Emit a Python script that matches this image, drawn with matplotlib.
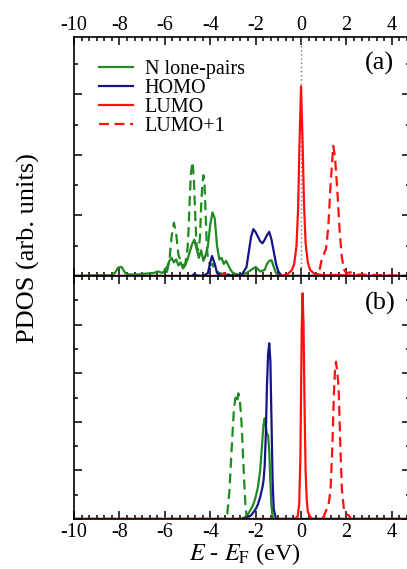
import matplotlib
matplotlib.use("Agg")
import matplotlib.pyplot as plt
from matplotlib.ticker import MultipleLocator

plt.rcParams['font.family'] = ['Liberation Serif', 'DejaVu Serif']
plt.rcParams['mathtext.fontset'] = 'stix'
plt.rcParams['axes.unicode_minus'] = False

GREEN = '#1f8a1f'
BLUE = '#14148a'
RED = '#ff1010'

# ---- panel (a) ----
a_lp_solid_E = [-10, -9.0, -8.4, -8.2, -8.05, -7.9, -7.75, -7.6, -7.2, -6.8, -6.5, -6.3, -6.1,
                -5.9, -5.8, -5.7, -5.6, -5.5, -5.4, -5.3, -5.2, -5.1, -5.0, -4.9, -4.8, -4.7,
                -4.6, -4.5, -4.4, -4.3, -4.2, -4.1, -4.0, -3.9, -3.8, -3.7, -3.6, -3.5, -3.4,
                -3.3, -3.2, -3.1, -3.0, -2.8, -2.6, -2.4, -2.2, -2.0, -1.8, -1.6, -1.5, -1.4,
                -1.3, -1.2, -1.1, -1.0, -0.9, 4.8]
a_lp_solid = [0, 0.02, 0.02, 0.1, 0.28, 0.3, 0.1, 0.05, 0.05, 0.08, 0.1, 0.15, 0.1,
              0.3, 0.5, 0.6, 0.45, 0.55, 0.35, 0.45, 0.25, 0.35, 0.55, 0.8, 1.05, 1.2,
              0.9, 0.6, 0.85, 0.5, 0.7, 1.0, 1.7, 2.1, 1.9, 1.0, 0.55, 0.6, 0.4,
              0.5, 0.35, 0.2, 0.1, 0.05, 0.05, 0.1, 0.2, 0.3, 0.15, 0.2, 0.4, 0.5,
              0.52, 0.3, 0.1, 0.03, 0, 0]

a_lp_dash_E = [-10, -6.2, -6.0, -5.9, -5.8, -5.7, -5.6, -5.5, -5.4, -5.3, -5.2, -5.1, -5.0,
               -4.95, -4.9, -4.85, -4.78, -4.72, -4.65, -4.6, -4.55, -4.5, -4.45, -4.4,
               -4.35, -4.3, -4.25, -4.2, -4.15, -4.1, -4.0, -3.9, -3.8, -3.6, -3.4, -3.0, 4.8]
a_lp_dash = [0, 0, 0.05, 0.15, 0.5, 1.3, 1.76, 1.4, 0.7, 0.5, 0.35, 0.4, 0.9,
             1.6, 2.6, 3.4, 3.77, 3.2, 1.8, 1.0, 0.85, 0.9, 1.3, 2.3,
             3.0, 3.33, 3.0, 2.0, 1.0, 0.55, 0.35, 0.4, 0.2, 0.1, 0.05, 0, 0]

a_homo_E = [-10, -4.8, -4.7, -4.6, -4.3, -4.1, -4.0, -3.92, -3.8, -3.7, -3.5, -3.2, -3.0,
            -2.6, -2.4, -2.3, -2.2, -2.1, -2.0, -1.9, -1.8, -1.7, -1.6, -1.5, -1.4, -1.3,
            -1.2, -1.1, -1.0, -0.9, -0.8, 4.8]
a_homo = [0, 0, 0.07, 0.02, 0, 0.1, 0.45, 0.66, 0.4, 0.1, 0.02, 0.05, 0,
          0.05, 0.3, 0.8, 1.3, 1.55, 1.45, 1.3, 1.15, 1.08, 1.2, 1.35, 1.46, 1.2,
          0.8, 0.4, 0.15, 0.05, 0, 0]

a_lumo_E = [-10, -3.5, -3.4, -3.3, -1.0, -0.6, -0.4, -0.3, -0.2, -0.13, -0.07, 0.0, 0.07,
            0.13, 0.2, 0.3, 0.4, 0.6, 0.8, 1.0, 1.5, 2.0, 3.0, 4.8]
a_lumo = [0, 0, 0.1, 0, 0, 0.05, 0.2, 0.4, 1.0, 2.2, 4.3, 6.27, 4.4,
          2.4, 1.1, 0.45, 0.2, 0.07, 0.05, 0.02, 0.04, 0.02, 0, 0]

a_lumo1_E = [-10, 0.6, 0.8, 0.9, 1.0, 1.1, 1.2, 1.3, 1.42, 1.5, 1.6, 1.7, 1.8, 1.9, 2.0,
             2.2, 2.4, 2.6, 4.8]
a_lumo1 = [0, 0, 0.15, 0.5, 0.7, 0.9, 1.6, 3.0, 4.3, 3.9, 2.8, 1.5, 0.6, 0.2, 0.1,
           0.12, 0.03, 0.05, 0]

# ---- panel (b) ----
b_lp_solid_E = [-10, -2.7, -2.5, -2.3, -2.1, -2.0, -1.9, -1.8, -1.75, -1.7, -1.65, -1.6,
                -1.55, -1.5, -1.45, -1.4, -1.35, -1.3, -1.25, -1.2, 4.8]
b_lp_solid = [0, 0, 0.05, 0.25, 0.6, 0.9, 1.3, 2.0, 2.6, 3.3, 3.9, 4.14,
              3.8, 3.5, 3.45, 2.8, 1.5, 0.5, 0.1, 0, 0]

b_lp_dash_E = [-10, -3.4, -3.25, -3.15, -3.05, -2.95, -2.88, -2.82, -2.76, -2.7, -2.65,
               -2.6, -2.55, -2.5, -2.45, -2.4, -2.3, 4.8]
b_lp_dash = [0, 0, 0.2, 1.2, 3.0, 4.6, 5.0, 4.8, 5.17, 4.9, 4.4,
             3.6, 2.5, 1.5, 0.6, 0.15, 0, 0]

b_homo_E = [-10, -2.6, -2.4, -2.2, -2.0, -1.9, -1.8, -1.7, -1.65, -1.6, -1.55, -1.5, -1.45,
            -1.4, -1.35, -1.3, -1.25, -1.2, -1.1, 4.8]
b_homo = [0, 0, 0.05, 0.15, 0.4, 0.6, 0.9, 1.3, 1.6, 2.2, 3.5, 5.5, 6.8,
          7.23, 6.5, 4.0, 1.5, 0.4, 0, 0]

b_lumo_E = [-10, -0.3, -0.15, -0.08, -0.03, 0.0, 0.03, 0.07, 0.11, 0.15, 0.2, 0.25, 0.3,
            0.4, 0.5, 4.8]
b_lumo = [0, 0, 0.1, 0.6, 2.5, 5.0, 7.8, 9.29, 8.0, 5.0, 2.0, 0.8, 0.3, 0.1, 0, 0]

b_lumo1_E = [-10, 0.9, 1.0, 1.1, 1.2, 1.3, 1.38, 1.45, 1.5, 1.54, 1.6, 1.65, 1.7, 1.75,
             1.8, 1.9, 2.0, 2.1, 2.2, 4.8]
b_lumo1 = [0, 0, 0.1, 0.35, 0.5, 1.2, 3.0, 5.2, 6.2, 6.47, 6.0, 5.5, 4.0, 2.5,
           1.2, 0.3, 0.2, 0.15, 0, 0]

xticks = [-10, -8, -6, -4, -2, 0, 2, 4]
xlabels = ['-10', '-8', '-6', '-4', '-2', '0', '2', '4']

W, H = 407, 569
fig = plt.figure(figsize=(W / 100, H / 100), dpi=100)
left = 74 / W
width = 336 / W
ax_a = fig.add_axes([left, 1 - 276 / H, width, 239 / H])
ax_b = fig.add_axes([left, 1 - 519 / H, width, 243 / H])

lw = 1.6
dash = (0, (4.5, 2.5))


def style(ax, ymax):
    ax.set_xlim(-10, 4.8)
    ax.set_ylim(0, ymax)
    ax.set_xticks(xticks)
    ax.set_xticklabels(xlabels)
    ax.xaxis.set_minor_locator(MultipleLocator(1 / 3))
    ax.yaxis.set_major_locator(MultipleLocator(2))
    ax.yaxis.set_minor_locator(MultipleLocator(1))
    ax.tick_params(which='both', direction='in', top=True, bottom=True, left=True,
                   right=True, width=1.1, labelsize=14.5, pad=4)
    ax.tick_params(which='major', length=5.5)
    ax.tick_params(which='minor', length=3)
    ax.set_yticklabels([])
    for s in ax.spines.values():
        s.set_linewidth(1.2)


# panel (a)
ax_a.axvline(0, color='#777777', ls=(0, (1, 2)), lw=1.0)
ax_a.plot(a_lp_dash_E, a_lp_dash, color=GREEN, lw=lw, ls=dash)
ax_a.plot(a_lp_solid_E, a_lp_solid, color=GREEN, lw=lw, label='N lone-pairs')
ax_a.plot(a_homo_E, a_homo, color=BLUE, lw=lw, label='HOMO')
ax_a.plot(a_lumo_E, a_lumo, color=RED, lw=lw, label='LUMO')
ax_a.plot(a_lumo1_E, a_lumo1, color=RED, lw=lw, ls=dash, label='LUMO+1')
style(ax_a, 7.9)
ax_a.tick_params(axis='x', labeltop=True, labelbottom=False, pad=1.5)
ax_a.legend(loc='upper left', bbox_to_anchor=(0.075, 0.905), frameon=False, fontsize=14.5,
            handlelength=1.7, handletextpad=0.55, labelspacing=0.0, borderpad=0,
            borderaxespad=0)
ax_a.text(0.91, 0.89, '(a)', transform=ax_a.transAxes, fontsize=19, ha='center', va='center')

# panel (b)
ax_b.plot(b_lp_dash_E, b_lp_dash, color=GREEN, lw=lw, ls=dash)
ax_b.plot(b_lp_solid_E, b_lp_solid, color=GREEN, lw=lw)
ax_b.plot(b_homo_E, b_homo, color=BLUE, lw=lw)
ax_b.plot(b_lumo_E, b_lumo, color=RED, lw=lw)
ax_b.plot(b_lumo1_E, b_lumo1, color=RED, lw=lw, ls=dash)
style(ax_b, 10)
ax_b.tick_params(labeltop=False, labelbottom=True, pad=3)
ax_b.text(0.91, 0.889, '(b)', transform=ax_b.transAxes, fontsize=19, ha='center', va='center')

fig.text(28 / W, 1 - 248 / H, 'PDOS (arb. units)', rotation=90, fontsize=19,
         ha='center', va='center')
fig.text(245 / W, 2 / H, r'$E$ - $E_{\mathrm{F}}$ (eV)', fontsize=17.5,
         ha='center', va='bottom')

fig.savefig('out.png', dpi=100)
